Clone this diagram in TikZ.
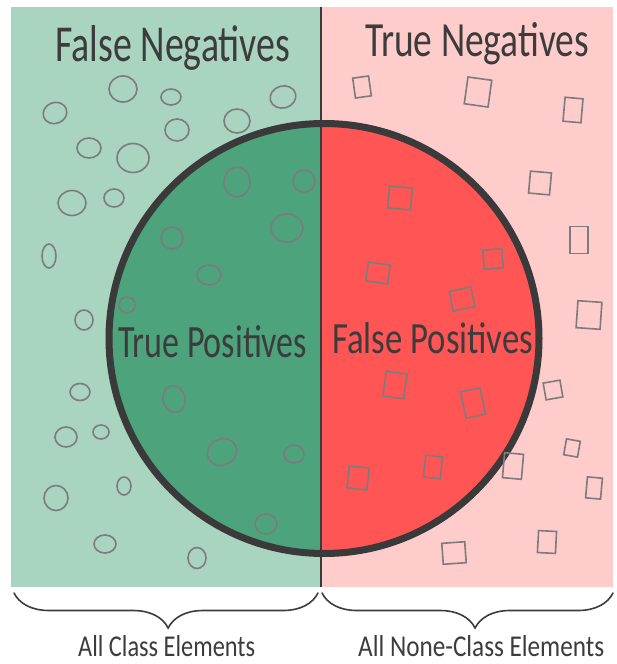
\documentclass[tikz,border=0pt]{standalone}
\usepackage{fontspec}
\usepackage{graphicx}
\setmainfont{Carlito}
\usetikzlibrary{decorations.pathreplacing}
\definecolor{bgGreen}{HTML}{A8D4C0}
\definecolor{dkGreen}{HTML}{4DA37C}
\definecolor{bgPink}{HTML}{FFCCCC}
\definecolor{dkRed}{HTML}{FF5555}
\definecolor{ringGray}{HTML}{3A3A3A}
\definecolor{shapeGray}{HTML}{7C7C7C}
\definecolor{txtGray}{HTML}{3C3C3C}
\begin{document}
\begin{tikzpicture}[x=1pt,y=-1pt,
  dot/.style={draw=shapeGray,line width=1.6pt},
  box/.style={draw=shapeGray,line width=1.6pt},
  lbl/.style={inner sep=0pt,anchor=base west,text=txtGray},
  brc/.style={draw=txtGray,line width=1.6pt,line cap=round,decorate,decoration={brace,mirror,amplitude=35pt,aspect=#1}}]
\useasboundingbox (0,0) rectangle (617,664);
% backgrounds
\fill[bgGreen] (11,7) rectangle (321,587);
\fill[bgPink] (321,7) rectangle (613,587);
% circle halves
\begin{scope}
  \clip (0,0) rectangle (321,664);
  \fill[dkGreen] (324,338.5) circle (215pt);
\end{scope}
\begin{scope}
  \clip (321,0) rectangle (617,664);
  \fill[dkRed] (324,338.5) circle (215pt);
\end{scope}
% divider
\coordinate (dtop) at (321,7);
\coordinate (dbot) at (321,587);
\draw[ringGray,line width=1.5pt] (dtop) -- (dbot);
% ring
\draw[ringGray,line width=7pt] (324,338.5) circle (215pt);
% class elements (circles)
\foreach \x/\y/\a/\b/\r in {
  123/89/14/13/0, 55/113/12/10.5/20, 171/97/10/8/0, 283/97/13/11/15,
  177/130/12/11/0, 237/121/13/12/0, 89/148/12/10/0, 133/158/16/14.5/0,
  72/203/14/12.5/0, 114/198/10/9/0, 237/182/13/15/0, 304/181/11/11/0,
  287/228/16/14/0, 172/238/11/11/0, 49/256/7/12/0, 209/275/12/10/0,
  127/305/8/8/0, 84/320/9/10/0, 80/392/10/8.5/0, 174/399/11/13.5/15,
  66/437/11/10/0, 101/432/8/7/0, 222/452/15/13/25, 294/454/10/9/0,
  124/486/7/9/0, 56/498/12/12.5/0, 266/524/11/10/0, 105/544/11/9/0,
  197/558/9/10.5/0}
  \draw[dot, rotate around={\r:(\x,\y)}] (\x,\y) ellipse [x radius=\a pt, y radius=\b pt];
% none-class elements (squares)
\foreach \x/\y/\w/\h/\r in {
  362/87/16/20/8, 478/92/24/27/-8, 573/110/18/24/-5, 540/183/21/22/-5,
  400/198/23/22/-5, 579/240/18/27/0, 493/259/19/19/5, 378/273/22/19/-8,
  462/299/22/20/12, 589/315/24/27/-4, 395/385/21/25/-8, 473/403/20/27/12,
  553/390/17/17/10, 572/448/14/16/-10, 513/466/19/25/-5, 433/467/17/22/-6,
  358/478/20/22/-6, 594/488/15/21/-5, 547/542/18/22/-3, 454/553/23/21/4}
  \draw[box, shift={(\x,\y)}, rotate=\r] (-\w/2,-\h/2) rectangle (\w/2,\h/2);
% labels
\node[lbl] (fneg) at (55,61) {\resizebox{235pt}{36pt}{False Negatives}};
\node[lbl] (tneg) at (365,56) {\resizebox{224pt}{34pt}{True Negatives}};
\node[lbl] (tpos) at (118,357) {\resizebox{189pt}{32pt}{True Positives}};
\node[lbl] (fpos) at (332,353) {\resizebox{201pt}{31pt}{False Positives}};
% braces
\coordinate (b1l) at (14,593);
\coordinate (b1r) at (318,593);
\coordinate (b2l) at (322,593);
\coordinate (b2r) at (613,593);
\draw[brc=0.507] (b1l) -- (b1r);
\draw[brc=0.526] (b2l) -- (b2r);
\node[lbl] (allc) at (78,656) {\resizebox{177pt}{21pt}{All Class Elements}};
\node[lbl] (allnc) at (358,656) {\resizebox{246pt}{21pt}{All None-Class Elements}};
\end{tikzpicture}
\end{document}
